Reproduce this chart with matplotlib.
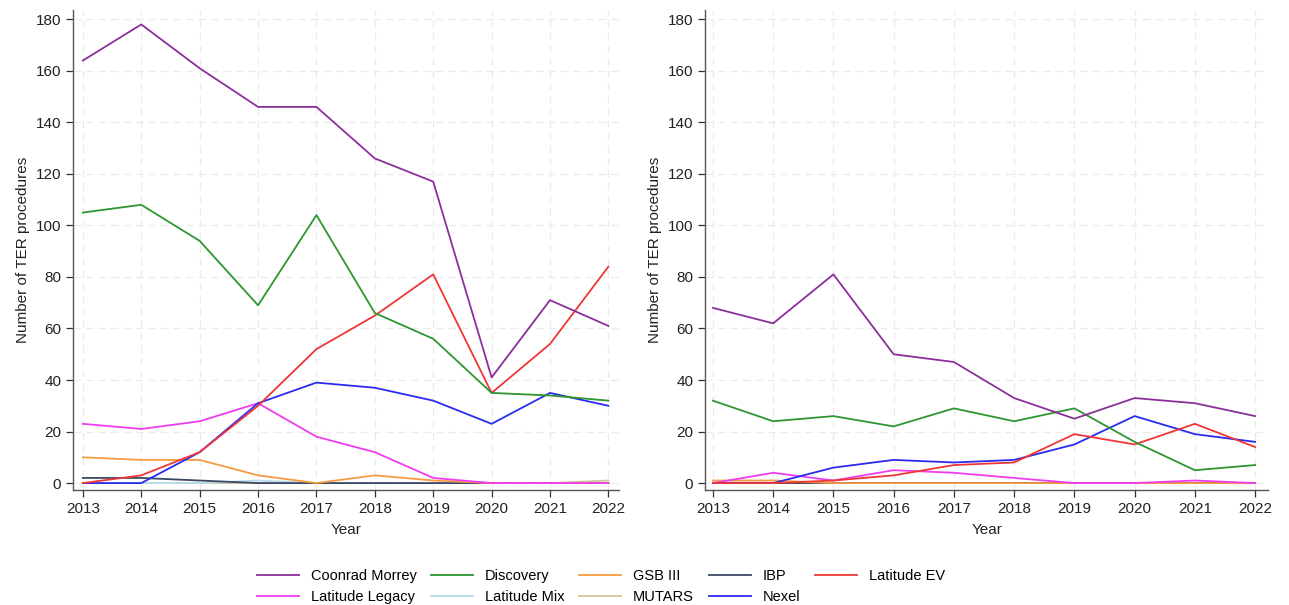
import numpy as np
import matplotlib
matplotlib.use("Agg")
import matplotlib.pyplot as plt

plt.rcParams['font.family'] = ['Liberation Sans', 'DejaVu Sans']

years = [2013, 2014, 2015, 2016, 2017, 2018, 2019, 2020, 2021, 2022]
series_names = ["Coonrad Morrey", "Discovery", "GSB III", "IBP", "Latitude EV",
                "Latitude Legacy", "Latitude Mix", "MUTARS", "Nexel"]
series_colors = ["#8B2F9A", "#2E9630", "#F59B42", "#3D4766", "#F03535",
                 "#F03CF0", "#B5DCEB", "#CFC79A", "#2B2BF0"]

# left panel
left_coonrad = [164, 178, 161, 146, 146, 126, 117, 41, 71, 61]
left_discovery = [105, 108, 94, 69, 104, 66, 56, 35, 34, 32]
left_gsb = [10, 9, 9, 3, 0, 3, 1, 0, 0, 0]
left_ibp = [2, 2, 1, 0, 0, 0, 0, 0, 0, 0]
left_lat_ev = [0, 3, 12, 30, 52, 65, 81, 35, 54, 84]
left_lat_legacy = [23, 21, 24, 31, 18, 12, 2, 0, 0, 0]
left_lat_mix = [0, 0, 0, 1, 0, 0, 0, 0, 0, 0]
left_mutars = [0, 0, 0, 0, 0, 0, 0, 0, 0, 1]
left_nexel = [0, 0, 12, 31, 39, 37, 32, 23, 35, 30]

# right panel
right_coonrad = [68, 62, 81, 50, 47, 33, 25, 33, 31, 26]
right_discovery = [32, 24, 26, 22, 29, 24, 29, 16, 5, 7]
right_gsb = [1, 1, 0, 0, 0, 0, 0, 0, 0, 0]
right_ibp = [0, 0, 0, 0, 0, 0, 0, 0, 0, 0]
right_lat_ev = [0, 0, 1, 3, 7, 8, 19, 15, 23, 14]
right_lat_legacy = [0, 4, 1, 5, 4, 2, 0, 0, 1, 0]
right_lat_mix = [0, 0, 0, 0, 0, 0, 0, 0, 0, 0]
right_mutars = [0, 0, 0, 0, 0, 0, 0, 0, 0, 0]
right_nexel = [0, 0, 6, 9, 8, 9, 15, 26, 19, 16]

left_data = [left_coonrad, left_discovery, left_gsb, left_ibp, left_lat_ev,
             left_lat_legacy, left_lat_mix, left_mutars, left_nexel]
right_data = [right_coonrad, right_discovery, right_gsb, right_ibp, right_lat_ev,
              right_lat_legacy, right_lat_mix, right_mutars, right_nexel]

# draw order: background lines first so the main ones sit on top
draw_order = [7, 6, 3, 2, 5, 8, 4, 1, 0]

fig = plt.figure(figsize=(12.89, 6.05), dpi=100)
ax1 = fig.add_axes([0.0566, 0.190, 0.424, 0.793])
ax2 = fig.add_axes([0.547, 0.190, 0.437, 0.793])

lines = {}
for ax, data, xlim in [(ax1, left_data, (2012.83, 2022.19)),
                       (ax2, right_data, (2012.87, 2022.22))]:
    for i in draw_order:
        ln, = ax.plot(years, data[i], color=series_colors[i], linewidth=1.3,
                      label=series_names[i])
        lines[i] = ln
    ax.set_xlim(*xlim)
    ax.set_ylim(-2.7, 183.5)
    ax.set_xticks(years)
    ax.set_yticks(np.arange(0, 181, 20))
    ax.grid(True, linestyle=(0, (6, 4)), color='#EBEBEB', linewidth=0.9)
    ax.set_axisbelow(True)
    for s in ['top', 'right']:
        ax.spines[s].set_visible(False)
    for s in ['left', 'bottom']:
        ax.spines[s].set_color('#555555')
        ax.spines[s].set_linewidth(1.0)
    ax.tick_params(axis='both', labelsize=11, colors='#333333', length=5,
                   width=0.9, labelcolor='#222222')
    ax.set_xlabel("Year", fontsize=11, color='#222222', labelpad=5)
    ax.set_ylabel("Number of TER procedures", fontsize=11, color='#222222',
                  labelpad=4)

# legend filled row by row (matplotlib fills by column)
legend_order = [0, 5, 1, 6, 2, 7, 3, 8, 4]
handles = [lines[i] for i in legend_order]
labels = [series_names[i] for i in legend_order]
fig.legend(handles, labels, loc='lower center', ncol=5,
           bbox_to_anchor=(0.466, -0.02), frameon=False, fontsize=10.5,
           handlelength=2.9, columnspacing=1.0, labelspacing=0.5,
           handletextpad=0.8)

fig.savefig("out.png", dpi=100, facecolor='white')
